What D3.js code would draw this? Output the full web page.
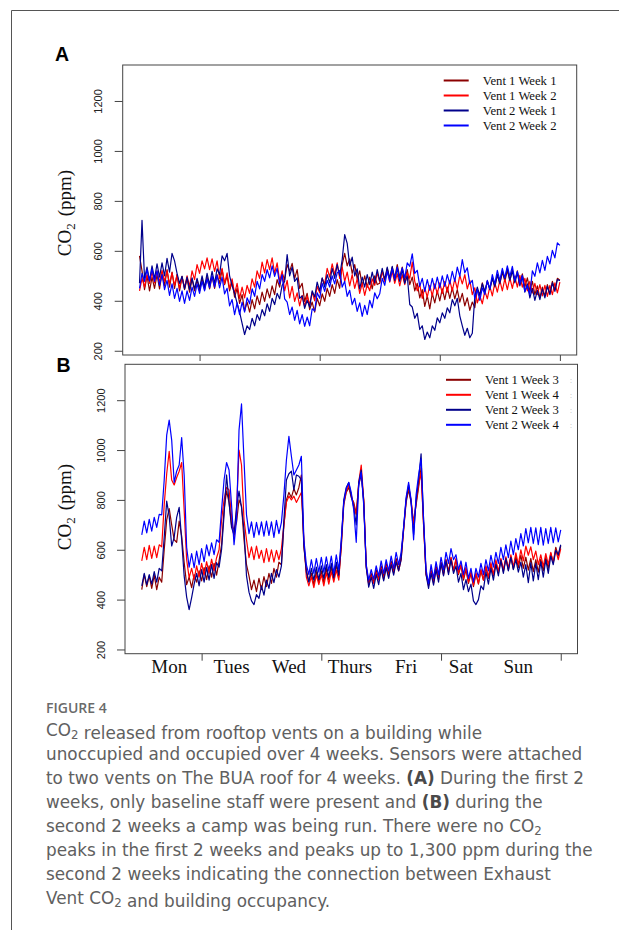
<!DOCTYPE html>
<html>
<head>
<meta charset="utf-8">
<script src="https://cdn.jsdelivr.net/npm/d3@7"></script>
<style>
  body { margin: 0; background: #fff; }
  svg { display: block; }
</style>
</head>
<body>
<div class="container"></div>
<script>
const hours = d3.range(0, 169);
const yTicks = [200, 400, 600, 800, 1000, 1200];
const dayTicks = [24, 72, 120, 168];
const dayLabels = ['Mon', 'Tues', 'Wed', 'Thurs', 'Fri', 'Sat', 'Sun'];
const dayLabelHours = [11, 36, 59, 83.5, 106, 128, 151];
const legendA = ['Vent 1 Week 1', 'Vent 1 Week 2', 'Vent 2 Week 1', 'Vent 2 Week 2'];
const legendB = ['Vent 1 Week 3', 'Vent 1 Week 4', 'Vent 2 Week 3', 'Vent 2 Week 4'];
const colors = ['#8b0000', '#ff0000', '#00008b', '#0000ff'];

// hourly CO2 (ppm), one row per day, Mon -> Sun
const vent1Week1 = [
  580, 520, 445, 500, 440, 495, 450, 505, 448, 510, 460, 525, 455, 515, 450, 505, 440, 498, 445, 490, 435, 488, 440, 485,
  440, 490, 445, 495, 448, 498, 450, 505, 470, 525, 465, 500, 440, 478, 415, 450, 390, 425, 360, 395, 355, 405, 368, 420,
  385, 435, 398, 448, 412, 460, 425, 485, 455, 510, 485, 545, 518, 550, 490, 525, 450, 470, 398, 430, 365, 395, 355, 410,
  380, 428, 398, 450, 418, 465, 430, 485, 450, 545, 590, 540, 568, 510, 545, 488, 520, 460, 500, 455, 495, 448, 500, 465,
  470, 520, 480, 530, 488, 535, 492, 545, 495, 535, 482, 525, 465, 495, 440, 470, 412, 445, 378, 420, 368, 430, 392, 440,
  400, 448, 405, 455, 410, 452, 408, 445, 395, 430, 380, 412, 362, 395, 372, 445, 425, 472, 432, 480, 445, 492, 455, 505,
  468, 515, 478, 522, 480, 525, 478, 520, 470, 508, 455, 492, 440, 478, 425, 460, 412, 455, 420, 465, 428, 478, 445, 490, 482
];
const vent1Week2 = [
  440, 490, 455, 505, 470, 515, 472, 520, 475, 522, 478, 520, 468, 512, 462, 505, 450, 495, 452, 500, 458, 520, 485, 545,
  510, 560, 528, 572, 525, 568, 518, 560, 490, 530, 468, 512, 448, 488, 428, 470, 410, 455, 412, 462, 430, 488, 455, 520,
  490, 555, 512, 565, 525, 572, 510, 552, 478, 520, 440, 482, 412, 458, 398, 432, 380, 422, 378, 420, 385, 435, 400, 458,
  432, 490, 468, 530, 495, 548, 505, 552, 490, 535, 478, 515, 460, 505, 450, 488, 430, 470, 422, 465, 440, 488, 462, 512,
  475, 520, 478, 525, 475, 518, 470, 508, 460, 505, 465, 512, 490, 555, 478, 440, 465, 410, 452, 415, 462, 420, 468, 428,
  472, 430, 478, 435, 482, 440, 488, 448, 502, 468, 505, 448, 482, 425, 452, 392, 420, 388, 440, 408, 458, 420, 472, 435,
  482, 440, 488, 445, 492, 450, 498, 455, 502, 455, 490, 440, 478, 432, 470, 425, 465, 420, 462, 418, 462, 425, 472, 432, 475
];
const vent2Week1 = [
  470, 722, 490, 535, 480, 540, 488, 548, 495, 552, 500, 570, 515, 590, 560, 510, 470, 498, 448, 495, 445, 492, 448, 490,
  450, 500, 455, 510, 465, 518, 470, 528, 505, 580, 560, 590, 500, 460, 430, 390, 355, 310, 265, 300, 285, 330, 300, 345,
  322, 365, 340, 388, 358, 410, 385, 430, 408, 462, 478, 585, 500, 535, 478, 492, 410, 420, 370, 402, 375, 440, 415, 475,
  440, 492, 455, 505, 472, 530, 490, 545, 500, 565, 665, 630, 540, 575, 500, 528, 448, 495, 455, 505, 465, 515, 472, 525,
  480, 530, 485, 535, 488, 538, 482, 530, 478, 525, 470, 500, 385, 375, 330, 350, 285, 300, 245, 275, 252, 300, 282, 332,
  312, 352, 330, 372, 352, 405, 380, 410, 340, 300, 262, 290, 252, 270, 418, 455, 420, 468, 438, 478, 445, 490, 458, 505,
  470, 520, 488, 532, 482, 520, 472, 512, 460, 498, 435, 468, 412, 450, 402, 442, 405, 448, 412, 458, 425, 472, 438, 485, 480
];
const vent2Week2 = [
  450, 510, 478, 525, 480, 528, 478, 520, 462, 505, 445, 482, 422, 468, 410, 450, 398, 440, 390, 440, 402, 455, 418, 468,
  430, 478, 440, 488, 452, 500, 455, 502, 452, 495, 428, 450, 380, 405, 345, 392, 345, 395, 355, 412, 388, 448, 418, 478,
  448, 505, 478, 525, 492, 540, 498, 530, 468, 505, 408, 395, 345, 375, 322, 362, 308, 345, 298, 335, 300, 368, 360, 432,
  410, 470, 438, 482, 455, 500, 468, 512, 522, 455, 478, 418, 442, 385, 410, 358, 392, 338, 382, 345, 402, 372, 432, 408,
  428, 490, 462, 518, 478, 528, 488, 535, 488, 532, 492, 552, 538, 588, 510, 522, 458, 490, 438, 485, 442, 490, 448, 495,
  452, 500, 458, 505, 468, 518, 478, 535, 498, 565, 512, 532, 468, 482, 408, 445, 402, 452, 425, 482, 448, 505, 468, 522,
  482, 530, 492, 540, 498, 538, 482, 518, 468, 502, 438, 462, 425, 520, 498, 552, 512, 562, 522, 578, 548, 602, 572, 632, 622
];
const vent1Week3 = [
  440, 500, 452, 495, 445, 498, 440, 490, 470, 600, 720, 765, 700, 640, 630, 715, 655, 550, 460, 490, 448, 500, 470, 515,
  475, 528, 480, 535, 490, 545, 498, 555, 620, 760, 835, 790, 700, 680, 710, 800, 775, 640, 540, 495, 440, 478, 432, 485,
  440, 492, 452, 505, 465, 525, 490, 550, 540, 700, 800, 830, 810, 845, 820, 850, 900, 610, 520, 472, 505, 460, 512, 470,
  515, 468, 525, 478, 530, 482, 538, 490, 610, 780, 830, 850, 810, 790, 745, 860, 900, 800, 530, 465, 505, 468, 520, 482,
  535, 490, 545, 500, 555, 510, 565, 520, 575, 680, 790, 840, 790, 710, 780, 850, 930, 700, 505, 460, 520, 478, 535, 490,
  550, 505, 560, 512, 568, 515, 560, 500, 538, 478, 520, 465, 505, 452, 502, 462, 515, 478, 530, 485, 540, 495, 550, 505,
  560, 512, 565, 518, 572, 522, 575, 528, 578, 525, 570, 518, 565, 512, 560, 510, 562, 515, 570, 525, 585, 548, 610, 575, 615
];
const vent1Week4 = [
  555, 610, 560, 618, 565, 615, 568, 620, 612, 780, 905, 995, 880, 860, 890, 915, 950, 760, 560, 488, 525, 480, 535, 490,
  545, 498, 552, 505, 562, 515, 568, 600, 720, 800, 850, 840, 735, 645, 760, 1000, 940, 720, 640, 568, 612, 560, 615, 565,
  598, 548, 605, 552, 600, 550, 598, 560, 605, 700, 790, 815, 800, 815, 790, 810, 830, 640, 490, 455, 492, 448, 498, 460,
  500, 455, 508, 462, 512, 470, 518, 478, 620, 790, 835, 860, 820, 780, 740, 870, 940, 800, 540, 460, 495, 465, 508, 478,
  525, 480, 535, 490, 545, 505, 555, 515, 560, 680, 800, 850, 800, 700, 790, 860, 910, 700, 500, 455, 512, 465, 525, 480,
  548, 498, 560, 508, 570, 515, 565, 505, 540, 485, 530, 470, 512, 458, 508, 465, 522, 478, 535, 490, 548, 500, 560, 512,
  565, 518, 572, 525, 580, 530, 588, 540, 600, 555, 615, 578, 612, 560, 595, 540, 580, 532, 585, 540, 590, 548, 600, 560, 605
];
const vent2Week3 = [
  455, 505, 460, 500, 462, 512, 470, 525, 515, 650, 795, 735, 615, 650, 730, 770, 640, 495, 410, 360, 408, 462, 505, 455,
  520, 470, 528, 478, 540, 485, 548, 530, 600, 740, 900, 790, 690, 660, 770, 835, 770, 680, 495, 430, 395, 380, 420, 405,
  455, 418, 478, 445, 505, 468, 520, 490, 535, 720, 880, 905, 915, 840, 900, 895, 880, 620, 510, 470, 525, 478, 530, 480,
  535, 485, 540, 490, 545, 488, 550, 498, 630, 800, 850, 870, 815, 770, 700, 870, 920, 790, 530, 450, 490, 445, 500, 460,
  520, 475, 528, 485, 540, 498, 552, 515, 560, 690, 800, 860, 790, 660, 800, 880, 985, 720, 500, 445, 505, 458, 520, 470,
  545, 495, 555, 500, 560, 505, 535, 470, 505, 440, 480, 432, 462, 395, 380, 400, 455, 440, 510, 462, 525, 478, 540, 495,
  558, 505, 565, 515, 570, 520, 560, 510, 550, 490, 540, 468, 548, 475, 545, 480, 552, 490, 560, 505, 575, 540, 598, 580, 620
];
const vent2Week4 = [
  660, 715, 668, 722, 675, 730, 690, 742, 740, 880, 1060, 1120, 1040, 870, 915, 940, 1050, 900, 610, 530, 585, 528, 595, 540,
  605, 552, 620, 575, 628, 580, 640, 630, 760, 880, 950, 920, 780, 620, 720, 1080, 1185, 960, 740, 665, 712, 650, 710, 660,
  712, 655, 715, 658, 712, 650, 718, 665, 710, 820, 960, 1055, 975, 900, 920, 940, 975, 640, 540, 500, 560, 505, 565, 510,
  570, 510, 572, 515, 575, 505, 580, 520, 640, 790, 845, 870, 830, 760, 630, 860, 910, 780, 540, 478, 520, 482, 535, 495,
  555, 505, 560, 515, 575, 525, 590, 540, 590, 690, 810, 870, 800, 640, 820, 900, 965, 720, 520, 465, 540, 485, 552, 500,
  570, 520, 590, 545, 605, 560, 580, 520, 555, 500, 550, 485, 525, 470, 525, 490, 545, 500, 560, 515, 578, 530, 590, 545,
  610, 560, 620, 568, 635, 580, 645, 600, 665, 615, 685, 628, 690, 625, 688, 620, 690, 618, 685, 625, 690, 628, 688, 632, 680
];

const captionLines = [
  [['CO'], ['2', 'sub'], [' released from rooftop vents on a building while']],
  [['unoccupied and occupied over 4 weeks. Sensors were attached']],
  [['to two vents on The BUA roof for 4 weeks. '], ['(A)', 'bold'], [' During the first 2']],
  [['weeks, only baseline staff were present and '], ['(B)', 'bold'], [' during the']],
  [['second 2 weeks a camp was being run. There were no CO'], ['2', 'sub']],
  [['peaks in the first 2 weeks and peaks up to 1,300 ppm during the']],
  [['second 2 weeks indicating the connection between Exhaust']],
  [['Vent CO'], ['2', 'sub'], [' and building occupancy.']]
];

const width = 619;
const height = 930;
const serif = '"Liberation Serif", "Times New Roman", serif';
const sans = '"Liberation Sans", Arial, sans-serif';

const svg = d3.select('.container').append('svg').attr('width', width).attr('height', height);

// outer frame of the figure card
svg.append('path').attr('d', 'M11.5,930 L11.5,10.5 L619,10.5').attr('fill', 'none').attr('stroke', '#555').attr('stroke-width', 1);

const renderPanel = ({ left, right, top, bottom, series, legend, tag, tagX, tagY, titleY, tickLen, days }) => {
  const g = svg.append('g');
  const x = d3.scaleLinear().domain([-6.72, 174.72]).range([left, right]);
  const y = d3.scaleLinear().domain([183, 1344]).range([bottom, top]);

  const line = d3
    .line()
    .x((d, i) => x(hours[i]))
    .y(d => y(d));

  series.forEach((s, i) => {
    g.append('path')
      .attr('d', line(s))
      .attr('fill', 'none')
      .attr('stroke', colors[i])
      .attr('stroke-width', 1.2)
      .attr('stroke-linejoin', 'round');
  });

  g.append('rect')
    .attr('x', left)
    .attr('y', top)
    .attr('width', right - left)
    .attr('height', bottom - top)
    .attr('fill', 'none')
    .attr('stroke', '#444')
    .attr('stroke-width', 1);

  const leftAxisGroup = g.append('g').attr('transform', `translate(${left},0)`);
  d3.axisLeft(y).tickValues(yTicks).tickSize(8).tickFormat(d3.format('d'))(leftAxisGroup);
  leftAxisGroup.select('.domain').remove();
  leftAxisGroup.selectAll('line').attr('stroke', '#444');
  leftAxisGroup
    .selectAll('text')
    .attr('x', 0)
    .attr('dy', 0)
    .attr('transform', 'translate(-20.4,0) rotate(-90)')
    .attr('text-anchor', 'middle')
    .attr('font-family', sans)
    .attr('font-size', 11)
    .attr('fill', '#222');

  const bottomAxisGroup = g.append('g').attr('transform', `translate(0,${bottom})`);
  d3.axisBottom(x).tickValues(dayTicks).tickSize(tickLen).tickFormat('')(bottomAxisGroup);
  bottomAxisGroup.select('.domain').remove();
  bottomAxisGroup.selectAll('line').attr('stroke', '#444');

  if (days) {
    g.selectAll('.day')
      .data(dayLabels)
      .enter()
      .append('text')
      .attr('class', 'day')
      .attr('x', (d, i) => x(dayLabelHours[i]))
      .attr('y', bottom + 19.3)
      .attr('text-anchor', 'middle')
      .attr('font-family', serif)
      .attr('font-size', 19)
      .attr('fill', '#111')
      .text(d => d);
  }

  const title = g
    .append('text')
    .attr('transform', `translate(70.6,${titleY}) rotate(-90)`)
    .attr('text-anchor', 'middle')
    .attr('font-family', serif)
    .attr('font-size', 19)
    .attr('fill', '#111');
  title.append('tspan').text('CO');
  title.append('tspan').attr('font-size', 13).attr('dy', 4).text('2');
  title.append('tspan').attr('dy', -4).attr('dx', 7).text('(ppm)');

  const legendGroup = g.append('g');
  legend.forEach((label, i) => {
    const ly = top + 15.5 + 15 * i;
    legendGroup
      .append('line')
      .attr('x1', left + 321)
      .attr('x2', left + 346)
      .attr('y1', ly)
      .attr('y2', ly)
      .attr('stroke', colors[i])
      .attr('stroke-width', 2);
    legendGroup
      .append('text')
      .attr('x', left + 360)
      .attr('y', ly + 4.3)
      .attr('font-family', serif)
      .attr('font-size', 12.7)
      .attr('fill', '#111')
      .text(label);
    if (days) {
      legendGroup
        .append('text')
        .attr('x', left + 445)
        .attr('y', ly + 3)
        .attr('font-family', sans)
        .attr('font-size', 7)
        .attr('fill', '#aaa')
        .text(':');
    }
  });

  svg
    .append('text')
    .attr('x', tagX)
    .attr('y', tagY)
    .attr('font-family', sans)
    .attr('font-weight', 'bold')
    .attr('font-size', 19.5)
    .attr('fill', '#000')
    .text(tag);
};

renderPanel({
  left: 122.7, right: 576.7, top: 65, bottom: 355,
  series: [vent1Week1, vent1Week2, vent2Week1, vent2Week2],
  legend: legendA, tag: 'A', tagX: 55, tagY: 61, titleY: 213, tickLen: 6, days: false
});

renderPanel({
  left: 125, right: 577.5, top: 364.3, bottom: 653.7,
  series: [vent1Week3, vent1Week4, vent2Week3, vent2Week4],
  legend: legendB, tag: 'B', tagX: 56.5, tagY: 372, titleY: 507, tickLen: 7, days: true
});

// caption
svg
  .append('text')
  .attr('x', 46)
  .attr('y', 712.7)
  .attr('font-family', '"Open Sans", "Noto Sans", sans-serif')
  .attr('font-size', 14)
  .attr('font-weight', 600)
  .attr('fill', '#6a6a6a')
  .text('FIGURE 4');

const caption = svg
  .append('g')
  .attr('font-family', '"DejaVu Sans", Verdana, sans-serif')
  .attr('font-size', 17)
  .attr('fill', '#606060');
const captionTexts = captionLines.map((parts, i) => {
  const t = caption.append('text').attr('x', 46).attr('y', 736 + 24 * i);
  parts.forEach(([str, kind]) => {
    if (kind === 'sub') {
      t.append('tspan').attr('font-size', '0.7em').attr('dy', '0.28em').text(str);
      t.append('tspan').attr('dy', '-0.2em').text('');
    } else if (kind === 'bold') {
      t.append('tspan').attr('font-weight', 'bold').attr('fill', '#4a4a4a').text(str);
    } else {
      t.append('tspan').text(str);
    }
  });
  return t;
});
// size the caption so the longest line fills the column width
const naturalWidth = captionTexts[1].node().getComputedTextLength();
caption.attr('font-size', (17 * 537) / naturalWidth);
</script>
</body>
</html>
